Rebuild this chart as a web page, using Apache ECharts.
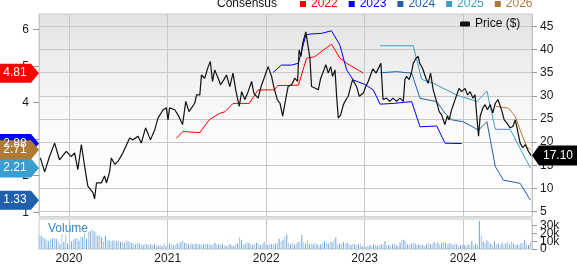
<!DOCTYPE html>
<html><head><meta charset="utf-8">
<script src="https://cdn.jsdelivr.net/npm/echarts@6/dist/echarts.min.js"></script>
<style>html,body{margin:0;padding:0;background:#fff}#c{width:577px;height:265px}</style>
</head><body><div id="c"></div>
<script>
const FONT = '"Liberation Sans", Arial, sans-serif';
const X_MIN = '2019-09-12', X_MAX = '2024-09-12';
const yearTicks = ['2020-01-01','2021-01-01','2022-01-01','2023-01-01','2024-01-01'];
const priceTicks = [5,10,15,20,25,30,35,40,45];
const epsTicks = [1,2,3,4,5,6];
const volTicks = [0,10,20,30];

const price = [
['2019-09-17',16.6],['2019-10-03',13.6],['2019-10-21',16.9],['2019-11-09',19.8],['2019-11-27',16.2],['2019-12-22',18.0],
['2020-01-09',16.9],['2020-01-22',17.7],['2020-02-03',14.1],['2020-02-16',19.5],['2020-02-28',14.8],['2020-03-11',10.5],['2020-03-30',9.1],['2020-04-05',7.8],['2020-04-12',11.2],['2020-04-30',11.2],['2020-05-12',12.7],['2020-05-19',11.2],['2020-05-31',13.7],['2020-06-06',16.6],['2020-06-19',15.2],['2020-07-01',15.9],['2020-07-19',17.7],['2020-08-13',20.9],['2020-08-25',20.5],['2020-09-13',21.3],['2020-09-25',19.8],['2020-10-11',23.1],['2020-10-29',20.5],['2020-11-14',22.7],['2020-11-26',25.2],['2020-12-15',27.0],['2020-12-27',27.4],
['2021-01-02',24.8],['2021-01-08',27.4],['2021-01-27',27.0],['2021-02-08',25.9],['2021-02-25',23.8],['2021-03-09',28.8],['2021-03-21',26.6],['2021-04-11',28.4],['2021-04-18',30.2],['2021-04-30',30.2],['2021-05-06',34.5],['2021-05-18',33.8],['2021-05-31',36.3],['2021-06-08',37.4],['2021-06-16',33.1],['2021-06-24',35.6],['2021-07-07',33.8],['2021-07-16',32.4],['2021-07-28',33.5],['2021-08-07',34.5],['2021-08-19',32.0],['2021-08-31',34.9],['2021-09-10',31.3],['2021-09-23',27.7],['2021-10-02',30.9],['2021-10-14',29.2],['2021-10-26',30.9],['2021-11-08',33.1],['2021-11-16',30.6],['2021-12-02',29.5],['2021-12-15',32.4],['2021-12-24',33.8],
['2022-01-08',36.3],['2022-01-21',34.2],['2022-01-29',32.0],['2022-02-11',29.2],['2022-02-21',28.4],['2022-03-03',25.6],['2022-03-15',29.5],['2022-03-23',32.0],['2022-04-05',32.4],['2022-04-17',33.8],['2022-04-27',33.1],['2022-05-03',39.9],['2022-05-10',38.5],['2022-05-16',41.3],['2022-05-28',43.8],['2022-06-03',43.5],['2022-06-12',38.1],['2022-06-18',32.0],['2022-06-30',31.7],['2022-07-13',31.3],['2022-07-22',33.8],['2022-08-03',35.6],['2022-08-10',36.7],['2022-08-19',34.9],['2022-08-28',36.3],['2022-09-04',34.2],['2022-09-13',35.6],['2022-09-19',29.9],['2022-09-25',25.2],['2022-10-04',25.9],['2022-10-14',28.1],['2022-10-24',29.2],['2022-11-01',29.9],['2022-11-10',32.0],['2022-11-17',33.5],['2022-11-22',33.8],['2022-12-02',32.0],['2022-12-12',29.9],['2022-12-27',30.6],
['2023-01-05',32.0],['2023-01-14',33.1],['2023-01-31',35.8],['2023-02-12',34.9],['2023-03-02',37.0],['2023-03-10',29.2],['2023-03-23',29.5],['2023-04-04',28.8],['2023-04-16',29.5],['2023-04-29',28.8],['2023-05-11',29.5],['2023-05-24',28.8],['2023-05-30',33.5],['2023-06-05',34.2],['2023-06-15',33.5],['2023-06-24',35.2],['2023-06-30',37.0],['2023-07-10',38.1],['2023-07-18',38.5],['2023-07-24',37.0],['2023-08-03',36.0],['2023-08-16',33.8],['2023-08-24',32.7],['2023-09-02',34.9],['2023-09-12',31.3],['2023-09-24',28.8],['2023-10-04',26.6],['2023-10-13',25.9],['2023-10-25',23.8],['2023-11-03',25.6],['2023-11-10',24.8],['2023-11-19',27.0],['2023-11-25',26.6],['2023-12-08',30.2],['2023-12-17',31.6],['2023-12-26',30.9],
['2024-01-08',31.6],['2024-01-17',30.2],['2024-01-27',30.9],['2024-02-06',29.5],['2024-02-14',30.2],['2024-02-21',25.2],['2024-02-27',21.3],['2024-03-04',25.6],['2024-03-14',27.4],['2024-03-22',28.1],['2024-03-31',27.0],['2024-04-10',28.1],['2024-04-20',26.3],['2024-04-29',28.4],['2024-05-09',29.2],['2024-05-15',28.8],['2024-05-24',26.6],['2024-06-01',24.8],['2024-06-11',24.1],['2024-06-23',23.1],['2024-07-03',23.4],['2024-07-12',24.8],['2024-07-20',22.7],['2024-07-30',19.8],['2024-08-09',18.8],['2024-08-18',19.5],['2024-08-30',18.0],['2024-09-09',17.1]
];

const cons2022 = [['2021-02-02',3.02],['2021-02-26',3.21],['2021-04-30',3.18],['2021-06-05',3.54],['2021-07-13',3.71],['2021-08-01',3.75],['2021-08-31',3.98],['2021-10-30',3.98],['2021-12-02',4.35],['2022-01-31',4.35],['2022-02-13',4.47],['2022-04-30',4.48],['2022-05-31',5.22],['2022-06-30',5.26],['2022-07-31',5.44],['2022-08-31',5.60],['2022-10-01',5.22],['2022-10-26',5.08],['2022-12-27',4.81]];
const cons2023 = [['2022-01-27',4.83],['2022-02-26',5.03],['2022-04-05',5.03],['2022-04-30',5.08],['2022-05-28',5.85],['2022-06-12',5.88],['2022-07-25',5.90],['2022-08-31',5.97],['2022-10-01',5.58],['2022-10-26',4.90],['2022-11-20',4.62],['2023-01-02',4.50],['2023-02-02',4.35],['2023-02-27',3.96],['2023-04-17',3.98],['2023-06-24',4.03],['2023-07-25',3.34],['2023-09-25',3.36],['2023-10-26',2.89],['2023-12-27',2.88]];
const cons2024 = [['2023-02-27',4.82],['2023-04-29',4.85],['2023-06-24',4.81],['2023-07-25',4.12],['2023-09-25',4.03],['2023-10-26',3.71],['2023-11-19',3.53],['2024-01-01',3.48],['2024-02-27',3.25],['2024-03-29',3.48],['2024-04-29',2.25],['2024-05-29',1.88],['2024-07-30',1.79],['2024-09-06',1.33]];
const cons2025 = [['2023-02-27',5.56],['2023-06-30',5.56],['2023-07-31',4.64],['2023-09-12',4.53],['2023-12-08',4.21],['2024-02-21',4.03],['2024-03-29',4.32],['2024-04-29',3.27],['2024-06-23',3.27],['2024-09-06',2.21]];
const cons2026 = [['2024-05-02',3.90],['2024-06-17',3.85],['2024-07-12',3.62],['2024-07-30',3.25],['2024-08-24',2.79],['2024-09-06',2.71]];

// weekly volume (thousands), first week ending 2019-09-13
const volStart = '2019-09-13';
const vol2019 = [18,17,15,13,11,10,12,13,14,13,11,6,19,9,19,7];
const vol2020 = [6,10,12,13,14,11,16,15,21,13,22,23,25, 23,21,17,18,15,10,17,12,11,10,11,11,10, 11,9,10,8,11,10,9,8,7,6,8,7,6, 5,7,6,5,6,5,6,5,4,5,4,8,4];
const vol2021 = [5,7,6,5,5,7,8,9,11,8,7,6,7, 6,6,7,6,6,5,6,7,6,7,5,6,8, 5,6,5,6,5,4,5,6,5,4,6,7,15, 12,6,7,9,8,6,5,6,8,7,5,6,9,6];
const vol2022 = [5,7,6,6,7,8,13,10,12,16,19,8,6, 8,6,7,9,10,18,9,7,11,6,7,6,8, 6,5,6,7,10,8,7,10,9,12,15,6,7, 7,9,6,8,6,5,7,6,5,6,7,4,5];
const vol2023 = [3,4,5,4,6,5,4,5,6,6,10,5,5, 4,6,7,5,4,8,12,12,10,6,5,7,8, 7,5,6,5,5,4,6,8,6,7,9,7,8, 6,8,9,8,6,7,8,5,7,6,4,5,6];
const vol2024 = [5,4,6,5,10,5,7,6,36,17,9,8,11, 10,7,5,10,6,7,5,8,6,7,9,6,10, 7,5,6,5,7,8,12,6,5,9];

const ts = s => { const p = s.split('-').map(Number); return new Date(p[0], p[1] - 1, p[2]).getTime(); };
const toXY = arr => arr.map(d => [ts(d[0]), d[1]]);
const volValues = [].concat(vol2019, vol2020, vol2021, vol2022, vol2023, vol2024);
const volume = volValues.map((v, i) => { const d = new Date(ts(volStart)); d.setDate(d.getDate() + 7 * i); return [d.getTime(), v]; });

const COLORS = {'2022':'#ff0000','2023':'#0000ff','2024':'#1f5fae','2025':'#3a9fcf','2026':'#b07a32'};
const yearTs = yearTicks.map(ts);
const xMin = ts(X_MIN), xMax = ts(X_MAX);

function leftTag(color, data) {
  const last = data[data.length - 1][1];
  return {
    symbol: 'path://M0,0L32,0L40,9.5L32,19L0,19Z', symbolSize: [40, 19], symbolOffset: [-20, 0], symbolKeepAspect: false,
    itemStyle: {color: color}, silent: true,
    label: {show: true, position: 'inside', color: '#fff', fontSize: 12, fontFamily: FONT, offset: [-4, 0], formatter: p => Number(p.value).toFixed(2)},
    data: [{coord: [xMin, last], value: last}]
  };
}
function consSeries(name, data) {
  return {name: name, type: 'line', xAxisIndex: 0, yAxisIndex: 1, data: toXY(data), showSymbol: false, symbol: 'none',
    color: COLORS[name], itemStyle: {color: COLORS[name]}, lineStyle: {width: 1, color: COLORS[name]},
    clip: false, markPoint: leftTag(COLORS[name], data), z: 3};
}
const lastPrice = price[price.length - 1][1];

const chart = echarts.init(document.getElementById('c'), null, {renderer: 'canvas'});
const axisLabelBase = {color: '#1a1a1a', fontSize: 12, fontFamily: FONT, showMinLabel: true, showMaxLabel: true, hideOverlap: false};
// one right-hand volume axis per tick so that the overlapping labels all stay visible
const volAxes = volTicks.map((t, i) => ({
  type: 'value', gridIndex: 1, position: 'right', min: 0, max: 38.5,
  axisLine: {show: i === 0, lineStyle: {color: '#c8c8c8'}},
  axisTick: {show: true, length: 5, lineStyle: {color: '#999'}, customValues: [t]},
  axisLabel: Object.assign({margin: 8, customValues: [t], formatter: v => v === 0 ? '0' : v + 'k'}, axisLabelBase),
  splitLine: {show: false}
}));
chart.setOption({
  animation: false,
  textStyle: {fontFamily: FONT},
  grid: [
    {left: 39, right: 45, top: 14, height: 202.5, show: true, borderColor: '#c8c8c8', borderWidth: 1,
     backgroundColor: new echarts.graphic.LinearGradient(0, 0, 0, 1, [{offset: 0, color: '#e3e3e3'}, {offset: 0.55, color: '#fbfbfb'}, {offset: 1, color: '#ffffff'}])},
    {left: 39, right: 45, top: 219, height: 35, show: true, borderColor: '#c8c8c8', borderWidth: 1, backgroundColor: '#ffffff'}
  ],
  legend: [
    {data: ['2022','2023','2024','2025','2026'].map(n => ({name: n, textStyle: {color: COLORS[n]}})),
     left: 300, top: -2, padding: 0, itemGap: 11, itemWidth: 6, itemHeight: 6, icon: 'rect', selectedMode: false,
     textStyle: {fontSize: 12, fontFamily: FONT}},
    {data: ['Price ($)'], left: 460, top: 18, padding: 0, itemWidth: 10, itemHeight: 5, icon: 'roundRect', selectedMode: false,
     textStyle: {fontSize: 12, fontFamily: FONT, color: '#111'}}
  ],
  xAxis: [
    {type: 'value', gridIndex: 0, min: xMin, max: xMax, axisLine: {show: false}, axisTick: {show: false, customValues: yearTs},
     axisLabel: {show: false, customValues: yearTs}, splitLine: {show: true, lineStyle: {color: '#c8c8c8', width: 1}}},
    {type: 'value', gridIndex: 1, min: xMin, max: xMax, axisLine: {show: false}, axisTick: {show: false, customValues: yearTs},
     axisLabel: Object.assign({show: true, margin: 4, customValues: yearTs, formatter: v => String(new Date(v).getFullYear())}, axisLabelBase),
     splitLine: {show: true, lineStyle: {color: '#c8c8c8', width: 1}}}
  ],
  yAxis: [
    {type: 'value', gridIndex: 0, position: 'right', min: 3.965, max: 47.654,
     axisLine: {show: true, lineStyle: {color: '#c8c8c8'}}, axisTick: {show: true, length: 5, lineStyle: {color: '#999'}, customValues: priceTicks},
     axisLabel: Object.assign({margin: 8, customValues: priceTicks}, axisLabelBase), splitLine: {show: true, lineStyle: {color: '#c8c8c8'}}},
    {type: 'value', gridIndex: 0, position: 'left', min: 0.882, max: 6.43,
     axisLine: {show: true, lineStyle: {color: '#c8c8c8'}}, axisTick: {show: true, length: 6, lineStyle: {color: '#999'}, customValues: epsTicks},
     axisLabel: Object.assign({margin: 10, customValues: epsTicks}, axisLabelBase), splitLine: {show: false}}
  ].concat(volAxes),
  graphic: [
    {type: 'text', x: 217, y: 4, style: {text: 'Consensus', fill: '#111', font: '12px ' + FONT, verticalAlign: 'middle'}},
    {type: 'rect', shape: {x: 39, y: 216.5, width: 493, height: 2.5}, style: {fill: '#dedede'}, z: 10, silent: true},
    {type: 'text', x: 48, y: 229, style: {text: 'Volume', fill: '#3a87c8', font: '12px ' + FONT, verticalAlign: 'middle'}, z: 10}
  ],
  series: [
    consSeries('2022', cons2022),
    consSeries('2023', cons2023),
    consSeries('2024', cons2024),
    consSeries('2025', cons2025),
    consSeries('2026', cons2026),
    {name: 'Price ($)', type: 'line', xAxisIndex: 0, yAxisIndex: 0, data: toXY(price), showSymbol: false, symbol: 'none',
     color: '#111', itemStyle: {color: '#111'}, lineStyle: {width: 1.2, color: '#111'}, clip: false, z: 4,
     markPoint: {symbol: 'path://M0,10L7,0L46,0L46,20L7,20Z', symbolSize: [46, 20], symbolOffset: [23, 0], symbolKeepAspect: false,
       itemStyle: {color: '#000'}, silent: true,
       label: {show: true, position: 'inside', color: '#fff', fontSize: 12, fontFamily: FONT, offset: [3, 0], formatter: p => Number(p.value).toFixed(2)},
       data: [{coord: [xMax, lastPrice], value: lastPrice}]}},
    {name: 'Volume', type: 'bar', xAxisIndex: 1, yAxisIndex: 2, data: volume, barWidth: 1,
     itemStyle: {color: p => (p.dataIndex % 2 ? '#6ea2d8' : '#a8c8ea')}}
  ]
});
</script></body></html>
